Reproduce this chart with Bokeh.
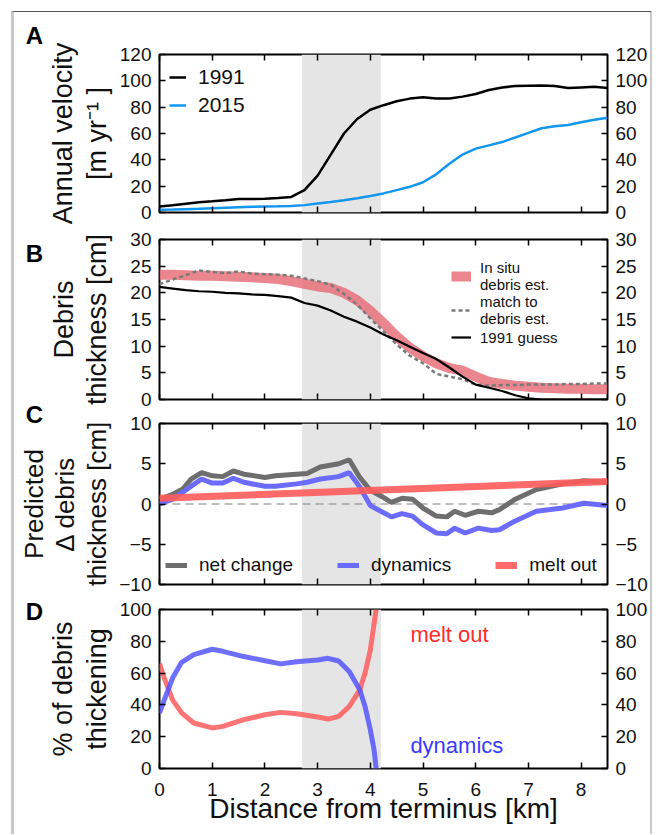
from bokeh.plotting import figure
from bokeh.models import (Range1d, LinearAxis, BoxAnnotation, Span, Legend,
                          LegendItem, Label, FixedTicker)
from bokeh.layouts import column
from bokeh.embed import file_html
from bokeh.resources import INLINE

FONT = "Liberation Sans"

# ---------------- data ----------------
x_ticks = [0, 1, 2, 3, 4, 5, 6, 7, 8]
shade_start = 2.7
shade_end = 4.2

# Panel A: annual velocity [m/yr]
dist_a = [0.0, 0.25, 0.5, 0.75, 1.0, 1.25, 1.5, 1.75, 2.0, 2.25, 2.5, 2.75, 3.0,
          3.25, 3.5, 3.75, 4.0, 4.25, 4.5, 4.75, 5.0, 5.25, 5.5, 5.75, 6.0, 6.25,
          6.5, 6.75, 7.0, 7.25, 7.5, 7.75, 8.0, 8.25, 8.5]
vel_1991 = [4.5, 5.5, 6.7, 7.8, 8.5, 9.3, 10.2, 10.3, 10.4, 11.0, 11.8, 17.0, 28.0,
            44.0, 60.0, 71.0, 78.0, 81.5, 84.5, 86.5, 87.5, 86.5, 86.5, 88.0, 90.0,
            93.0, 95.0, 96.0, 96.3, 96.5, 96.0, 94.5, 95.0, 95.5, 94.5]
vel_2015 = [2.0, 2.2, 2.5, 2.8, 3.2, 3.6, 4.0, 4.3, 4.5, 4.7, 5.0, 5.6, 6.8,
            8.0, 9.3, 10.8, 12.5, 14.5, 17.0, 19.5, 23.0, 29.0, 37.0, 44.0, 48.5,
            51.0, 53.5, 57.0, 60.5, 64.0, 65.5, 66.5, 68.5, 70.5, 72.0]
a_yticks = [0, 20, 40, 60, 80, 100, 120]

# Panel B: debris thickness [cm]
dist_b = dist_a
insitu_est = [23.4, 23.4, 23.3, 23.2, 23.2, 23.1, 23.0, 22.9, 22.8, 22.6, 22.2, 21.7,
              21.2, 20.9, 20.0, 18.6, 16.6, 14.3, 11.8, 9.7, 8.1, 6.8, 5.9, 5.4, 4.3,
              3.3, 2.9, 2.6, 2.4, 2.2, 2.1, 2.0, 2.0, 1.9, 1.9]
match_est = [21.6, 22.5, 23.3, 24.2, 23.9, 23.7, 24.0, 23.6, 23.5, 23.4, 23.2, 22.7,
             22.2, 21.5, 19.8, 17.8, 15.2, 12.8, 10.3, 8.2, 6.8, 4.8, 4.3, 3.8, 2.8,
             2.6, 2.7, 2.7, 2.8, 2.8, 2.8, 2.9, 2.9, 3.0, 3.0]
guess_1991 = [21.1, 20.8, 20.5, 20.3, 20.2, 20.0, 19.9, 19.7, 19.6, 19.4, 19.1, 18.1,
              17.6, 16.7, 15.5, 14.6, 13.5, 12.2, 11.1, 9.9, 8.7, 7.6, 6.0, 4.3, 2.8,
              2.2, 1.6, 0.8, 0.2, 0.0, 0.0, 0.0, 0.0, 0.0, 0.0]
b_yticks = [0, 5, 10, 15, 20, 25, 30]

# Panel C: predicted change in debris thickness [cm]
dist_c = [0.0, 0.25, 0.45, 0.6, 0.8, 1.0, 1.2, 1.4, 1.6, 2.0, 2.2, 2.6, 2.8, 3.05,
          3.4, 3.6, 3.8, 4.0, 4.2, 4.4, 4.6, 4.8, 5.0, 5.25, 5.45, 5.6, 5.8, 6.05,
          6.3, 6.45, 6.75, 7.15, 7.65, 8.05, 8.5]
net_change = [0.6, 1.2, 1.9, 3.1, 3.9, 3.5, 3.4, 4.1, 3.7, 3.3, 3.5, 3.7, 3.8, 4.6,
              5.0, 5.5, 3.3, 1.7, 1.0, 0.2, 0.7, 0.6, -0.5, -1.5, -1.6, -0.9, -1.4,
              -0.9, -1.1, -0.7, 0.6, 1.8, 2.5, 2.9, 2.7]
dynamics = [0.0, 0.6, 1.5, 2.2, 3.1, 2.6, 2.6, 3.2, 2.7, 2.2, 2.2, 2.5, 2.7, 3.1,
            3.4, 3.9, 2.1, -0.2, -0.9, -1.6, -1.2, -1.5, -2.6, -3.6, -3.7, -3.0,
            -3.6, -3.0, -3.3, -3.2, -2.1, -0.9, -0.5, 0.1, -0.2]
dist_melt = [0.0, 8.5]
melt_out = [0.7, 2.8]
c_yticks = [-10, -5, 0, 5, 10]

# Panel D: % of debris thickening
dist_d = [0.0, 0.1, 0.25, 0.42, 0.65, 1.0, 1.2, 1.6, 2.0, 2.3, 2.6, 3.0, 3.2, 3.4,
          3.6, 3.8, 3.9, 4.0, 4.07, 4.11]
pct_melt = [66, 56, 43, 35, 28.6, 25.5, 26.5, 30.7, 33.8, 35.3, 34.4, 32.4, 31.1,
            32.8, 39, 49.5, 60, 74.5, 91, 100]
pct_dyn = [35, 44, 57, 66.8, 71.6, 75, 73.7, 70.4, 67.8, 65.8, 67.2, 68.3, 69.3,
           67.6, 61, 49.5, 39, 24.4, 12, 0]
d_yticks = [0, 20, 40, 60, 80, 100]


# ---------------- helpers ----------------
def style_axis(ax, ticks, show_labels, standoff=8):
    ax.ticker = FixedTicker(ticks=ticks)
    ax.axis_line_color = None
    ax.major_tick_in = 6
    ax.major_tick_out = 0
    ax.major_tick_line_color = "black"
    ax.major_tick_line_width = 1.5
    ax.minor_tick_line_color = None
    ax.major_label_text_font = FONT
    ax.major_label_text_color = "#111111"
    if show_labels:
        ax.major_label_text_font_size = "19px"
        ax.major_label_standoff = standoff
    else:
        ax.major_label_overrides = {t: "" for t in ticks}
        ax.major_label_text_font_size = "1px"
        ax.major_label_standoff = 0


def make_fig(h, top, bottom, yr, yticks, ylabel, title_standoff, letter, letter_xy,
             show_x_labels=False, line_height=1.12, title_size="27px", overlap=0):
    p = figure(width=636, height=h, x_range=Range1d(0, 8.5), y_range=Range1d(*yr),
               output_backend="svg", toolbar_location=None,
               min_border_left=145, min_border_right=43,
               min_border_top=top, min_border_bottom=bottom,
               background_fill_color="white", border_fill_alpha=0,
               margin=(-overlap, 0, 0, 0))
    p.xgrid.visible = False
    p.ygrid.visible = False
    p.outline_line_color = "black"
    p.outline_line_width = 2
    p.outline_line_alpha = 1

    style_axis(p.below[0], x_ticks, show_x_labels, standoff=14)
    top_ax = LinearAxis()
    style_axis(top_ax, x_ticks, False)
    p.add_layout(top_ax, "above")

    yl = p.left[0]
    style_axis(yl, yticks, True, standoff=8)
    overrides = {t: ("\u2212" + str(-t)) for t in yticks if t < 0}
    if overrides:
        yl.major_label_overrides = overrides
    yl.axis_label = ylabel
    yl.axis_label_text_font = FONT
    yl.axis_label_text_font_size = title_size
    yl.axis_label_text_font_style = "normal"
    yl.axis_label_text_color = "#111111"
    yl.axis_label_standoff = title_standoff
    yl.axis_label_text_line_height = line_height

    yr_ax = LinearAxis()
    style_axis(yr_ax, yticks, True, standoff=8)
    if overrides:
        yr_ax.major_label_overrides = overrides
    p.add_layout(yr_ax, "right")

    p.add_layout(BoxAnnotation(left=shade_start, right=shade_end, fill_color="#e5e5e5",
                               fill_alpha=1, line_color=None, level="underlay"))
    # panel letter lives in the (unclipped) top side panel
    p.add_layout(Label(x=letter_xy[0], y=letter_xy[1], text=letter, text_font=FONT,
                       text_font_style="bold", text_font_size="24px",
                       text_baseline="middle", text_color="black"), "above")
    return p


def style_legend(lg, size="19px"):
    lg.background_fill_alpha = 0
    lg.border_line_alpha = 0
    lg.label_text_font = FONT
    lg.label_text_font_size = size
    lg.label_text_color = "#111111"
    lg.padding = 0
    lg.margin = 0


# ---------------- Panel A ----------------
pa = make_fig(214, 42, 14, (0, 120), a_yticks, "Annual velocity\n[m yr\u207b\u00b9 ]", 5,
              "A", (-2.54, 134.4))
ra1 = pa.line(dist_a, vel_1991, line_color="black", line_width=2.5)
ra2 = pa.line(dist_a, vel_2015, line_color="#1296f0", line_width=2.5)
lga = Legend(items=[LegendItem(label="1991", renderers=[ra1]),
                    LegendItem(label="2015", renderers=[ra2])],
             location=(10, 95), glyph_width=17, label_standoff=12, spacing=4)
style_legend(lga, "21px")
pa.add_layout(lga)

# ---------------- Panel B ----------------
pb = make_fig(206, 36, 10, (0, 30), b_yticks, "Debris\nthickness [cm]", 15, "B",
              (-2.54, 27.4), overlap=23)
rb1 = pb.line(dist_b, insitu_est, line_color="#e8707a", line_alpha=0.85, line_width=10)
rb2 = pb.line(dist_b, match_est, line_color="#7a7a7a", line_width=2.5, line_dash="4 3")
rb3 = pb.line(dist_b, guess_1991, line_color="black", line_width=2.2)
lgb = Legend(items=[LegendItem(label="In situ\ndebris est.", renderers=[rb1]),
                    LegendItem(label="match to\ndebris est.", renderers=[rb2]),
                    LegendItem(label="1991 guess", renderers=[rb3])],
             location=(292, 52), glyph_width=20, label_standoff=9, spacing=0)
style_legend(lgb, "15px")
lgb.label_text_line_height = 1.2
pb.add_layout(lgb)

# ---------------- Panel C ----------------
pc = make_fig(209, 36, 12, (-10, 10), c_yticks, "Predicted\n\u0394 debris\nthickness [cm]",
              4, "C", (-2.54, 11.1), line_height=1.06, title_size="26px", overlap=22)
pc.add_layout(Span(location=0, dimension="width", line_color="#808080", line_width=1.2,
                   line_dash="8 5", level="underlay"))
rc1 = pc.line(dist_c, net_change, line_color="#6e6e6e", line_width=5)
rc2 = pc.line(dist_c, dynamics, line_color="#6b6bff", line_width=5)
rc3 = pc.line(dist_melt, melt_out, line_color="#ff5a5a", line_alpha=0.9, line_width=7)
lgc = Legend(items=[LegendItem(label="net change", renderers=[rc1]),
                    LegendItem(label="dynamics", renderers=[rc2]),
                    LegendItem(label="melt out", renderers=[rc3])],
             location=(6, 8), orientation="horizontal", glyph_width=22,
             label_standoff=12, spacing=44)
style_legend(lgc, "19px")
pc.add_layout(lgc)

# ---------------- Panel D ----------------
pd_ = make_fig(261, 36, 66, (0, 100), d_yticks, "% of debris\nthickening", 5, "D",
               (-2.54, 98.7), show_x_labels=True, overlap=23)
pd_.line(dist_d, pct_melt, line_color="#ff5c5c", line_alpha=0.85, line_width=5)
pd_.line(dist_d, pct_dyn, line_color="#5555ff", line_alpha=0.85, line_width=5)
xa = pd_.below[0]
xa.axis_label = "Distance from terminus [km]"
xa.axis_label_text_font = FONT
xa.axis_label_text_font_size = "28px"
xa.axis_label_text_font_style = "normal"
xa.axis_label_text_color = "#111111"
xa.axis_label_standoff = -6
pd_.add_layout(Label(x=4.76, y=84, text="melt out", text_color="#ff2a2a",
                     text_font=FONT, text_font_size="22px", text_baseline="middle"))
pd_.add_layout(Label(x=4.76, y=14.5, text="dynamics", text_color="#3a3aff",
                     text_font=FONT, text_font_size="22px", text_baseline="middle"))

layout = column(pa, pb, pc, pd_, spacing=0,
                styles={"margin-left": "11px", "margin-top": "11px",
                        "border-top": "1px solid #555555",
                        "border-left": "3px solid #c8c8c8",
                        "border-right": "2px solid #c8c8c8",
                        "background-color": "white"})

open("out.html", "w").write(file_html(layout, INLINE))
